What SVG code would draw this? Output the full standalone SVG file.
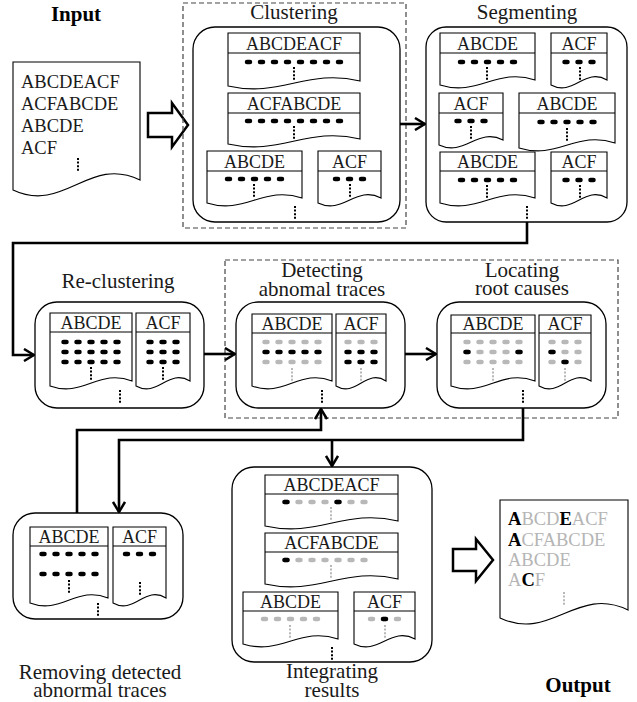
<svg xmlns="http://www.w3.org/2000/svg" width="637" height="702" viewBox="0 0 637 702">
<style>
  .box{fill:none;stroke:#000;stroke-width:1.3}
  .doc{fill:#fff;stroke:#000;stroke-width:1.1}
  .hd{fill:none;stroke:#000;stroke-width:1.1}
  .frame{fill:none;stroke:#444;stroke-width:1.2;stroke-dasharray:5 3}
  text{font-family:"Liberation Serif","Times New Roman",serif;fill:#1a1a1a}
  .t{font-size:18px;text-anchor:middle}
  .lbl{font-size:21px;text-anchor:middle}
  .big{font-size:21px;font-weight:bold;text-anchor:middle;fill:#000}
  .src{font-size:18.5px}
  .b{font-weight:bold;fill:#000}
  .g{fill:#b5b5b5}
  .row{fill:none;stroke-width:4.5;stroke-linecap:round;stroke-dasharray:3 10}
  .one{fill:none;stroke-width:4.5;stroke-linecap:round;stroke:#000}
  .dk{stroke:#000}
  .lt{stroke:#b8b8b8}
  .vd{fill:none;stroke-width:2;stroke-dasharray:2 1.6}
  .conn{fill:none;stroke:#000;stroke-width:2.6;marker-end:url(#chev)}
  .fat{fill:#fff;stroke:#000;stroke-width:2.5;stroke-linejoin:miter}
</style>
<defs>
  <marker id="chev" viewBox="0 0 12 14" refX="11" refY="7" markerWidth="12" markerHeight="14" markerUnits="userSpaceOnUse" orient="auto">
    <path d="M1,1 L11,7 L1,13" fill="none" stroke="#000" stroke-width="2.5"/>
  </marker>
</defs>

<!-- input traces -->
<g id="input">
  <text class="big" x="76" y="21">Input</text>
  <path class="doc" d="M13,62H140V180C89,155 64,214 13,190Z"/>
  <text class="src" x="21" y="88">ABCDEACF</text>
  <text class="src" x="21" y="110">ACFABCDE</text>
  <text class="src" x="21" y="132">ABCDE</text>
  <text class="src" x="21" y="154">ACF</text>
  <line class="vd dk" x1="78" y1="158" x2="78" y2="171"/>
</g>

<path id="arrow-in" class="fat" d="M148,113H172V103L188,125L172,147V137H148Z"/>

<!-- clustering -->
<g id="clustering">
  <rect class="frame" x="183" y="3" width="223" height="225"/>
  <text class="lbl" x="294" y="19">Clustering</text>
  <rect class="box" x="193" y="27" width="207" height="195" rx="22"/>
  <path class="doc" d="M228,33H360V81C307.2,68 280.8,98 228,86Z"/>
  <path class="hd" d="M228,53H360"/>
  <text class="t" x="294" y="50">ABCDEACF</text>
  <line class="row dk" x1="247" y1="62" x2="341" y2="62"/>
  <line class="vd dk" x1="294" y1="67" x2="294" y2="80"/>
  <path class="doc" d="M228,93H360V139C307.2,126 280.8,156 228,144Z"/>
  <path class="hd" d="M228,113H360"/>
  <text class="t" x="294" y="110">ACFABCDE</text>
  <line class="row dk" x1="247" y1="121" x2="341" y2="121"/>
  <line class="vd dk" x1="294" y1="126" x2="294" y2="139"/>
  <path class="doc" d="M207,151H302V198C264,185 245,215 207,203Z"/>
  <path class="hd" d="M207,171H302"/>
  <text class="t" x="254.5" y="168">ABCDE</text>
  <line class="row dk" x1="227" y1="179" x2="282" y2="179"/>
  <line class="vd dk" x1="254" y1="184" x2="254" y2="197"/>
  <path class="doc" d="M318,151H381V198C355.8,185 343.2,215 318,203Z"/>
  <path class="hd" d="M318,171H381"/>
  <text class="t" x="349.5" y="168">ACF</text>
  <line class="row dk" x1="335" y1="179" x2="364" y2="179"/>
  <line class="vd dk" x1="350" y1="184" x2="350" y2="197"/>
  <line class="vd dk" x1="295" y1="206" x2="295" y2="219"/>
</g>

<!-- segmenting -->
<g id="segmenting">
  <text class="lbl" x="527" y="19">Segmenting</text>
  <rect class="box" x="426" y="27" width="201" height="195" rx="20"/>
  <path class="doc" d="M440,33H535V80C497,67 478,97 440,85Z"/>
  <path class="hd" d="M440,53H535"/>
  <text class="t" x="487.5" y="50">ABCDE</text>
  <line class="row dk" x1="460" y1="62" x2="515" y2="62"/>
  <line class="vd dk" x1="487" y1="67" x2="487" y2="80"/>
  <path class="doc" d="M551,33H607V80C584.6,67 573.4,97 551,85Z"/>
  <path class="hd" d="M551,53H607"/>
  <text class="t" x="579" y="50">ACF</text>
  <line class="row dk" x1="564.5" y1="62" x2="593.5" y2="62"/>
  <line class="vd dk" x1="580" y1="67" x2="580" y2="80"/>
  <path class="doc" d="M439,93H503V140C477.4,127 464.6,157 439,145Z"/>
  <path class="hd" d="M439,113H503"/>
  <text class="t" x="471" y="110">ACF</text>
  <line class="row dk" x1="456.5" y1="121" x2="485.5" y2="121"/>
  <line class="vd dk" x1="471" y1="126" x2="471" y2="139"/>
  <path class="doc" d="M519,93H615V143C576.6,130 557.4,160 519,148Z"/>
  <path class="hd" d="M519,113H615"/>
  <text class="t" x="567" y="110">ABCDE</text>
  <line class="row dk" x1="539.5" y1="122" x2="594.5" y2="122"/>
  <line class="vd dk" x1="567" y1="128" x2="567" y2="141"/>
  <path class="doc" d="M440,152H535V198C497,185 478,215 440,203Z"/>
  <path class="hd" d="M440,171H535"/>
  <text class="t" x="487.5" y="168">ABCDE</text>
  <line class="row dk" x1="460" y1="180" x2="515" y2="180"/>
  <line class="vd dk" x1="487" y1="185" x2="487" y2="198"/>
  <path class="doc" d="M551,152H607V198C584.6,185 573.4,215 551,203Z"/>
  <path class="hd" d="M551,171H607"/>
  <text class="t" x="579" y="168">ACF</text>
  <line class="row dk" x1="564.5" y1="180" x2="593.5" y2="180"/>
  <line class="vd dk" x1="580" y1="185" x2="580" y2="198"/>
  <line class="vd dk" x1="527" y1="206" x2="527" y2="219"/>
</g>

<!-- re-clustering -->
<g id="reclustering">
  <text class="lbl" x="118" y="288">Re-clustering</text>
  <rect class="box" x="35" y="302" width="169" height="106" rx="22"/>
  <path class="doc" d="M50,313H132V381C99.2,368 82.8,398 50,386Z"/>
  <path class="hd" d="M50,332H132"/>
  <text class="t" x="91" y="329">ABCDE</text>
  <line class="row dk" x1="63.5" y1="342" x2="118.5" y2="342"/>
  <line class="row dk" x1="63.5" y1="352" x2="118.5" y2="352"/>
  <line class="row dk" x1="63.5" y1="362" x2="118.5" y2="362"/>
  <line class="vd dk" x1="91" y1="367" x2="91" y2="380"/>
  <path class="doc" d="M136,313H190V381C168.4,368 157.6,398 136,386Z"/>
  <path class="hd" d="M136,332H190"/>
  <text class="t" x="163" y="329">ACF</text>
  <line class="row dk" x1="148.5" y1="342" x2="177.5" y2="342"/>
  <line class="row dk" x1="148.5" y1="352" x2="177.5" y2="352"/>
  <line class="row dk" x1="148.5" y1="362" x2="177.5" y2="362"/>
  <line class="vd dk" x1="163" y1="367" x2="163" y2="380"/>
  <line class="vd dk" x1="120" y1="390" x2="120" y2="403"/>
</g>

<rect id="anomaly-frame" class="frame" x="225" y="260" width="393" height="158"/>

<!-- detecting abnormal traces -->
<g id="detecting">
  <text class="lbl" x="322" y="277"><tspan x="322" y="277">Detecting</tspan><tspan x="322" dy="19">abnomal traces</tspan></text>
  <rect class="box" x="236" y="302" width="169" height="106" rx="22"/>
  <path class="doc" d="M252,314H332V381C300,368 284,398 252,386Z"/>
  <path class="hd" d="M252,333H332"/>
  <text class="t" x="292" y="330">ABCDE</text>
  <line class="row lt" x1="264.5" y1="342" x2="319.5" y2="342"/>
  <line class="row dk" x1="264.5" y1="352" x2="319.5" y2="352"/>
  <line class="row lt" x1="264.5" y1="362" x2="319.5" y2="362"/>
  <line class="vd lt" x1="292" y1="368" x2="292" y2="381"/>
  <path class="doc" d="M336,314H386V381C366,368 356,398 336,386Z"/>
  <path class="hd" d="M336,333H386"/>
  <text class="t" x="361" y="330">ACF</text>
  <line class="row lt" x1="346.5" y1="342" x2="375.5" y2="342"/>
  <line class="row dk" x1="346.5" y1="352" x2="375.5" y2="352"/>
  <line class="row dk" x1="346.5" y1="362" x2="375.5" y2="362"/>
  <line class="vd lt" x1="361" y1="368" x2="361" y2="381"/>
  <line class="vd dk" x1="322" y1="390" x2="322" y2="403"/>
</g>

<!-- locating root causes -->
<g id="locating">
  <text class="lbl" x="522" y="277"><tspan x="522" y="277">Locating</tspan><tspan x="522" dy="18">root causes</tspan></text>
  <rect class="box" x="437" y="302" width="169" height="106" rx="22"/>
  <path class="doc" d="M451,315H535V381C501.4,368 484.6,398 451,386Z"/>
  <path class="hd" d="M451,333H535"/>
  <text class="t" x="493" y="330">ABCDE</text>
  <line class="row lt" x1="465.5" y1="342" x2="520.5" y2="342"/>
  <line class="row lt" x1="465.5" y1="352" x2="520.5" y2="352"/>
  <line class="one" x1="465.5" y1="352" x2="468.5" y2="352"/>
  <line class="one" x1="517.5" y1="352" x2="520.5" y2="352"/>
  <line class="row lt" x1="465.5" y1="362" x2="520.5" y2="362"/>
  <line class="vd lt" x1="493" y1="368" x2="493" y2="381"/>
  <path class="doc" d="M539,315H591V381C570.2,368 559.8,398 539,386Z"/>
  <path class="hd" d="M539,333H591"/>
  <text class="t" x="565" y="330">ACF</text>
  <line class="row lt" x1="550.5" y1="342" x2="579.5" y2="342"/>
  <line class="row lt" x1="550.5" y1="352" x2="579.5" y2="352"/>
  <line class="one" x1="550.5" y1="352" x2="553.5" y2="352"/>
  <line class="row lt" x1="550.5" y1="362" x2="579.5" y2="362"/>
  <line class="one" x1="563.5" y1="362" x2="566.5" y2="362"/>
  <line class="vd lt" x1="565" y1="368" x2="565" y2="381"/>
  <line class="vd dk" x1="523" y1="390" x2="523" y2="403"/>
</g>

<!-- removing detected abnormal traces -->
<g id="removing">
  <rect class="box" x="13" y="513" width="170" height="106" rx="22"/>
  <path class="doc" d="M30,527H108V598C76.8,585 61.2,615 30,603Z"/>
  <path class="hd" d="M30,546H108"/>
  <text class="t" x="69" y="543">ABCDE</text>
  <line class="row dk" x1="41.5" y1="554" x2="96.5" y2="554"/>
  <line class="row dk" x1="41.5" y1="574" x2="96.5" y2="574"/>
  <line class="vd dk" x1="69" y1="580" x2="69" y2="593"/>
  <path class="doc" d="M113,527H166V598C144.8,585 134.2,615 113,603Z"/>
  <path class="hd" d="M113,546H166"/>
  <text class="t" x="139.5" y="543">ACF</text>
  <line class="row dk" x1="125" y1="554" x2="154" y2="554"/>
  <line class="vd dk" x1="140" y1="582" x2="140" y2="595"/>
  <line class="vd dk" x1="98" y1="603" x2="98" y2="616"/>
  <text class="lbl" x="100" y="679"><tspan x="100" y="679">Removing detected</tspan><tspan x="100" dy="18">abnormal traces</tspan></text>
</g>

<!-- integrating results -->
<g id="integrating">
  <rect class="box" x="232" y="467" width="200" height="195" rx="22"/>
  <path class="doc" d="M265,475H398V521C344.8,508 318.2,538 265,526Z"/>
  <path class="hd" d="M265,494H398"/>
  <text class="t" x="331.5" y="491">ABCDEACF</text>
  <line class="row lt" x1="284.5" y1="502" x2="375.5" y2="502"/>
  <line class="one" x1="284.5" y1="502" x2="287.5" y2="502"/>
  <line class="one" x1="336.5" y1="502" x2="339.5" y2="502"/>
  <line class="vd lt" x1="331" y1="507" x2="331" y2="520"/>
  <path class="doc" d="M265,533H398V579C344.8,566 318.2,596 265,584Z"/>
  <path class="hd" d="M265,552H398"/>
  <text class="t" x="331.5" y="549">ACFABCDE</text>
  <line class="row lt" x1="284.5" y1="560" x2="375.5" y2="560"/>
  <line class="one" x1="284.5" y1="560" x2="287.5" y2="560"/>
  <line class="vd lt" x1="331" y1="565" x2="331" y2="578"/>
  <path class="doc" d="M243,592H338V639C300,626 281,656 243,644Z"/>
  <path class="hd" d="M243,611H338"/>
  <text class="t" x="290.5" y="608">ABCDE</text>
  <line class="row lt" x1="263" y1="619" x2="318" y2="619"/>
  <line class="vd lt" x1="290" y1="625" x2="290" y2="638"/>
  <path class="doc" d="M354,592H415V639C390.6,626 378.4,656 354,644Z"/>
  <path class="hd" d="M354,611H415"/>
  <text class="t" x="384.5" y="608">ACF</text>
  <line class="row lt" x1="370" y1="619" x2="399" y2="619"/>
  <line class="one" x1="383" y1="619" x2="386" y2="619"/>
  <line class="vd lt" x1="385" y1="625" x2="385" y2="638"/>
  <line class="vd dk" x1="332" y1="647" x2="332" y2="660"/>
  <text class="lbl" x="332" y="678"><tspan x="332" y="678">Integrating</tspan><tspan x="332" dy="19">results</tspan></text>
</g>

<path id="arrow-out" class="fat" d="M453,549H476V539L493,560L476,581V571H453Z"/>

<!-- output traces -->
<g id="output">
  <path class="doc" d="M500,500H628V610C576.8,585 551.2,642 500,618Z"/>
  <text class="src" x="508" y="525"><tspan class="b">A</tspan><tspan class="g">BCD</tspan><tspan class="b">E</tspan><tspan class="g">ACF</tspan></text>
  <text class="src" x="508" y="546"><tspan class="b">A</tspan><tspan class="g">CFABCDE</tspan></text>
  <text class="src g" x="508" y="566">ABCDE</text>
  <text class="src" x="508" y="586"><tspan class="g">A</tspan><tspan class="b">C</tspan><tspan class="g">F</tspan></text>
  <line class="vd lt" x1="564" y1="592" x2="564" y2="605"/>
  <text class="big" x="578" y="692">Output</text>
</g>

<!-- flow connectors -->
<g id="connectors">
  <path class="conn" d="M400,124H425"/>
  <path class="conn" d="M527,222V243H13V355H34"/>
  <path class="conn" d="M204,354H235"/>
  <path class="conn" d="M405,354H436"/>
  <path class="conn" d="M523,408V440H119V512"/>
  <path class="conn" d="M332,440V466"/>
  <path class="conn" d="M77,513V430H321V409"/>
</g>
</svg>
